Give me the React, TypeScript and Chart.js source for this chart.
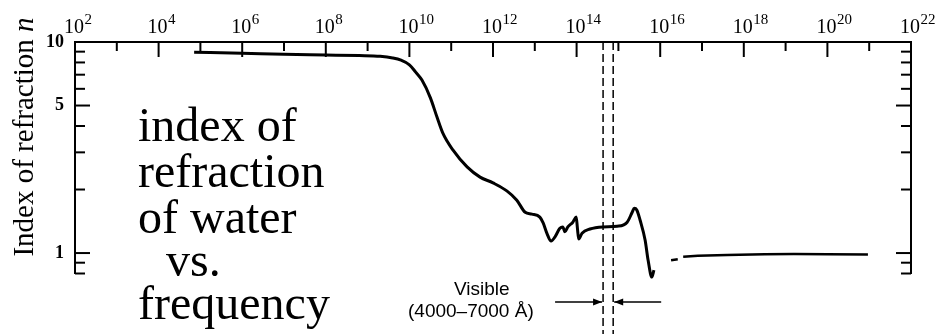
import React, { useEffect, useRef } from "react";
import { Chart, registerables } from "chart.js";

Chart.register(...registerables);

// log10(frequency / Hz) and index of refraction n, radio -> UV branch
const lowLogFreq = [4.85, 6.0, 7.0, 8.0, 8.8, 9.3, 9.6, 9.8, 10.0, 10.15, 10.3, 10.5, 10.66, 10.8, 11.04, 11.38, 11.69, 12.0, 12.33, 12.57, 12.77, 12.93, 13.12, 13.2, 13.29, 13.39, 13.48, 13.6, 13.67, 13.72, 13.79, 13.91, 13.99, 14.02, 14.05, 14.13, 14.32, 14.63, 14.97, 15.21, 15.33, 15.38, 15.44, 15.52, 15.64, 15.71, 15.8, 15.85];
const lowN = [8.95, 8.85, 8.75, 8.68, 8.62, 8.55, 8.4, 8.2, 7.8, 7.2, 6.6, 5.45, 4.41, 3.7, 3.08, 2.56, 2.29, 2.15, 1.97, 1.78, 1.56, 1.53, 1.48, 1.39, 1.24, 1.14, 1.19, 1.31, 1.33, 1.26, 1.33, 1.4, 1.48, 1.31, 1.165, 1.24, 1.3, 1.33, 1.34, 1.4, 1.56, 1.63, 1.6, 1.43, 1.15, 0.926, 0.769, 0.83];

// X-ray branch
const highLogFreq = [16.26, 16.42, 16.48, 16.55, 16.9, 17.6, 18.5, 19.2, 20.0, 20.97];
const highN = [0.925, 0.935, null, 0.96, 0.972, 0.98, 0.987, 0.99, 0.988, 0.985];

// axes
const xLabelExponents = [2, 4, 6, 8, 10, 12, 14, 16, 18, 20, 22];
const xMinorExponents = [3, 5, 7, 9, 11, 13, 15, 17, 19, 21];
const xLabelBase = "10";
const yLabelValues = [10, 5, 1];
const yMinorValues = [9, 8, 7, 6, 4, 3, 2, 0.9, 0.8];
const yMin = 0.8;
const yMax = 10;

// visible band 4000-7000 Å in Hz
const visibleBandHz = [4.3e14, 7.5e14];

const titleLines = ["index of", "refraction", "of water", "vs.", "frequency"];
const yTitle = "Index of refraction ";
const yTitleVar = "n";
const visibleLabel = "Visible";
const visibleRange = "(4000\u20137000 \u00C5)";

const decor = {
  id: "decor",
  afterDraw(chart: any) {
    const { ctx, chartArea } = chart;
    const xs = chart.scales.x;
    const ys = chart.scales.y;
    const { left, right, top } = chartArea;
    ctx.save();
    ctx.strokeStyle = "#000";
    ctx.fillStyle = "#000";
    ctx.lineWidth = 2;
    ctx.lineCap = "butt";
    const seg = (x1: number, y1: number, x2: number, y2: number) => {
      ctx.beginPath();
      ctx.moveTo(x1, y1);
      ctx.lineTo(x2, y2);
      ctx.stroke();
    };
    // top ticks (inward) + labels with superscript exponents
    ctx.textBaseline = "alphabetic";
    ctx.textAlign = "left";
    xLabelExponents.forEach((e) => {
      const x = xs.getPixelForValue(10 ** e);
      seg(x, top, x, top + 15);
      ctx.font = '20px "Liberation Serif"';
      const bx = x - 11;
      ctx.fillText(xLabelBase, bx, 33);
      const bw = ctx.measureText(xLabelBase).width;
      ctx.font = '15px "Liberation Serif"';
      ctx.fillText(String(e), bx + bw + 0.5, 24);
    });
    xMinorExponents.forEach((e) => {
      const x = xs.getPixelForValue(10 ** e);
      seg(x, top, x, top + 9);
    });
    // left / right ticks (inward)
    yLabelValues.forEach((v) => {
      const y = ys.getPixelForValue(v);
      seg(left, y, left + 15, y);
      seg(right, y, right - 15, y);
    });
    yMinorValues.forEach((v) => {
      const y = ys.getPixelForValue(v);
      seg(left, y, left + 10, y);
      seg(right, y, right - 10, y);
    });

    // visible band dashed lines
    ctx.lineWidth = 1.5;
    ctx.setLineDash([8, 4]);
    const vx = visibleBandHz.map((f) => xs.getPixelForValue(f));
    vx.forEach((x) => seg(x, top, x, chart.height));
    ctx.setLineDash([]);

    // arrows
    const ay = 302;
    const arrow = (tail: number, tip: number) => {
      seg(tail, ay, tip, ay);
      const d = tip > tail ? -1 : 1;
      ctx.beginPath();
      ctx.moveTo(tip, ay);
      ctx.lineTo(tip + d * 9, ay - 3.5);
      ctx.lineTo(tip + d * 9, ay + 3.5);
      ctx.closePath();
      ctx.fill();
    };
    arrow(vx[0] - 48, vx[0] - 1);
    arrow(vx[1] + 48, vx[1] + 1);

    // visible labels
    ctx.font = '19px "Liberation Sans"';
    ctx.fillText(visibleLabel, 454, 295);
    ctx.fillText(visibleRange, 408, 317);

    // big annotation
    ctx.font = '48px "Liberation Serif"';
    const lx = [138, 138, 138, 166, 138];
    const bl = [141, 187, 233, 276, 319];
    titleLines.forEach((t, i) => ctx.fillText(t, lx[i], bl[i]));

    // y title
    ctx.save();
    ctx.translate(33, 137);
    ctx.rotate(-Math.PI / 2);
    ctx.font = '29px "Liberation Serif"';
    const w1 = ctx.measureText(yTitle).width;
    ctx.font = 'italic 29px "Liberation Serif"';
    const w2 = ctx.measureText(yTitleVar).width;
    const start = -(w1 + w2) / 2;
    ctx.font = '29px "Liberation Serif"';
    ctx.fillText(yTitle, start, 0);
    ctx.font = 'italic 29px "Liberation Serif"';
    ctx.fillText(yTitleVar, start + w1, 0);
    ctx.restore();

    ctx.restore();
  },
};

export default function App() {
  const ref = useRef<HTMLCanvasElement | null>(null);
  useEffect(() => {
    if (!ref.current) return;
    const lowData = lowLogFreq.map((e, i) => ({ x: 10 ** e, y: lowN[i] }));
    const highData = highLogFreq.map((e, i) => ({ x: 10 ** e, y: highN[i] }));
    const chart = new Chart(ref.current, {
      type: "line",
      data: {
        datasets: [
          {
            data: lowData as any,
            borderColor: "#000",
            borderWidth: 3,
            pointRadius: 0,
            cubicInterpolationMode: "monotone",
            clip: false as any,
          },
          {
            data: highData as any,
            borderColor: "#000",
            borderWidth: 2.5,
            pointRadius: 0,
            spanGaps: false,
            clip: false as any,
          },
        ],
      },
      plugins: [decor],
      options: {
        animation: false,
        responsive: true,
        maintainAspectRatio: false,
        layout: { padding: { left: 0, right: 24, top: 0, bottom: 60.5 } },
        plugins: { legend: { display: false }, tooltip: { enabled: false } },
        scales: {
          x: {
            type: "logarithmic",
            position: "top",
            min: 1e2,
            max: 1e22,
            afterBuildTicks: (s: any) => {
              s.ticks = xLabelExponents.map((e) => ({ value: 10 ** e }));
            },
            afterFit: (s: any) => {
              s.height = 42;
              s.paddingLeft = 0;
              s.paddingRight = 0;
            },
            grid: { display: false, drawTicks: false },
            border: { display: true, color: "#000", width: 2 },
            ticks: { display: false },
          },
          y: {
            type: "logarithmic",
            position: "left",
            min: yMin,
            max: yMax,
            afterBuildTicks: (s: any) => {
              s.ticks = yLabelValues.map((v) => ({ value: v }));
            },
            afterFit: (s: any) => {
              s.width = 75;
              s.paddingTop = 0;
              s.paddingBottom = 0;
            },
            grid: { display: false, drawTicks: false },
            border: { display: true, color: "#000", width: 2 },
            ticks: {
              padding: 11,
              color: "#000",
              font: { family: "Liberation Serif", size: 18, weight: "bold" },
              callback: (v: any) => String(v),
            },
          },
          y2: {
            type: "logarithmic",
            position: "right",
            min: yMin,
            max: yMax,
            afterFit: (s: any) => {
              s.width = 0;
              s.paddingTop = 0;
              s.paddingBottom = 0;
            },
            grid: { display: false, drawTicks: false },
            border: { display: true, color: "#000", width: 2 },
            ticks: { display: false },
          },
        },
      },
    });
    return () => chart.destroy();
  }, []);
  return (
    <div style={{ position: "absolute", left: 0, top: 0, width: 935, height: 334, background: "#fff" }}>
      <canvas ref={ref} />
    </div>
  );
}
